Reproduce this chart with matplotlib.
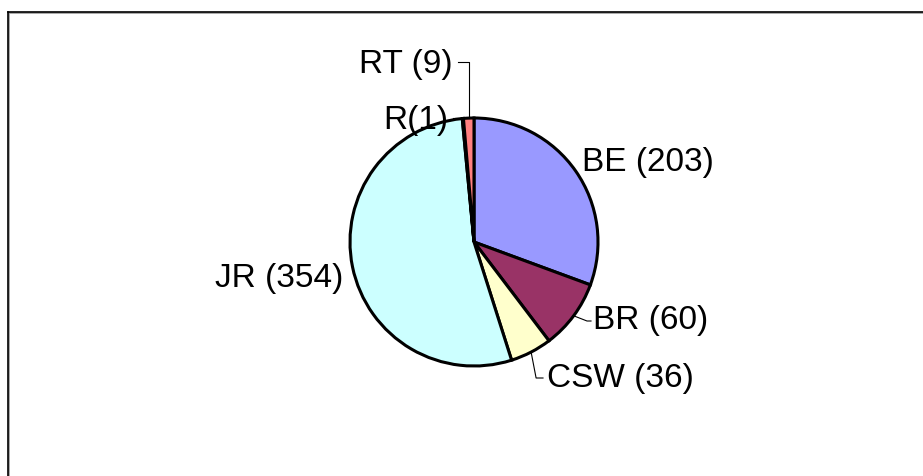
import numpy as np
import matplotlib
matplotlib.use('Agg')
import matplotlib.pyplot as plt
from matplotlib.lines import Line2D

plt.rcParams['font.family'] = ['Liberation Sans', 'DejaVu Sans']

# data
labels = ['BE', 'BR', 'CSW', 'JR', 'R', 'RT']
counts = [203, 60, 36, 354, 1, 9]
colors = ['#9999FF', '#993366', '#FFFFCC', '#CCFFFF', '#660066', '#FF8080']
label_text = ['BE (203)', 'BR (60)', 'CSW (36)', 'JR (354)', 'R(1)', 'RT (9)']

W, H = 923, 477
fig = plt.figure(figsize=(W / 100, H / 100), dpi=100)
ax = fig.add_axes([0, 0, 1, 1])

cx, cy, rad = 474, H - 243, 124
ax.pie(counts, colors=colors, startangle=90, counterclock=False,
       center=(cx, cy), radius=rad,
       wedgeprops=dict(edgecolor='black', linewidth=2.2))
ax.set_xlim(0, W)
ax.set_ylim(0, H)
ax.set_aspect('equal')
ax.axis('off')

# mid angles of the slices (degrees, standard orientation)
frac = np.array(counts) / sum(counts) * 360
ends = 90 - np.cumsum(frac)
mids = ends + frac / 2

def edge(i):
    a = np.deg2rad(mids[i])
    return cx + rad * np.cos(a), cy + rad * np.sin(a)

fs = 24
# label placement (pixel coords, y from top) and leader style
place = {
    'BE': (582, 163, 'left', None),
    'BR': (593, 321, 'left', 'diag'),
    'CSW': (547, 379, 'left', 'down'),
    'JR': (343, 278, 'right', None),
    'R': (448, 121, 'right', 'up'),
    'RT': (453, 65, 'right', 'up'),
}
for i, key in enumerate(labels):
    x, y, ha, lead = place[key]
    ax.text(x, H - y, label_text[i], fontsize=fs, ha=ha, va='center')
    if lead is None:
        continue
    ex, ey = edge(i)
    ty = H - y
    if lead == 'up':
        xs = [x + 5, ex, ex]
        ys = [ty + 2, ty + 2, ey]
    elif lead == 'diag':
        xs = [ex, x - 6, x - 2]
        ys = [ey, ty - 1, ty - 1]
    else:
        xs = [ex, ex + 5, x - 4]
        ys = [ey, ty, ty]
    ax.plot(xs, ys, color='black', linewidth=0.8)

# chart frame (only top and left edges visible)
fig.add_artist(Line2D([9 / W, 1], [1 - 14 / H, 1 - 14 / H], color='#999999', linewidth=1.2))
fig.add_artist(Line2D([9 / W, 9 / W], [0, 1 - 14 / H], color='#999999', linewidth=1.2))
fig.add_artist(Line2D([8 / W, 1], [1 - 13 / H, 1 - 13 / H], color='black', linewidth=1.2))
fig.add_artist(Line2D([8 / W, 8 / W], [0, 1 - 13 / H], color='black', linewidth=1.2))

fig.savefig('out.png', dpi=100)
